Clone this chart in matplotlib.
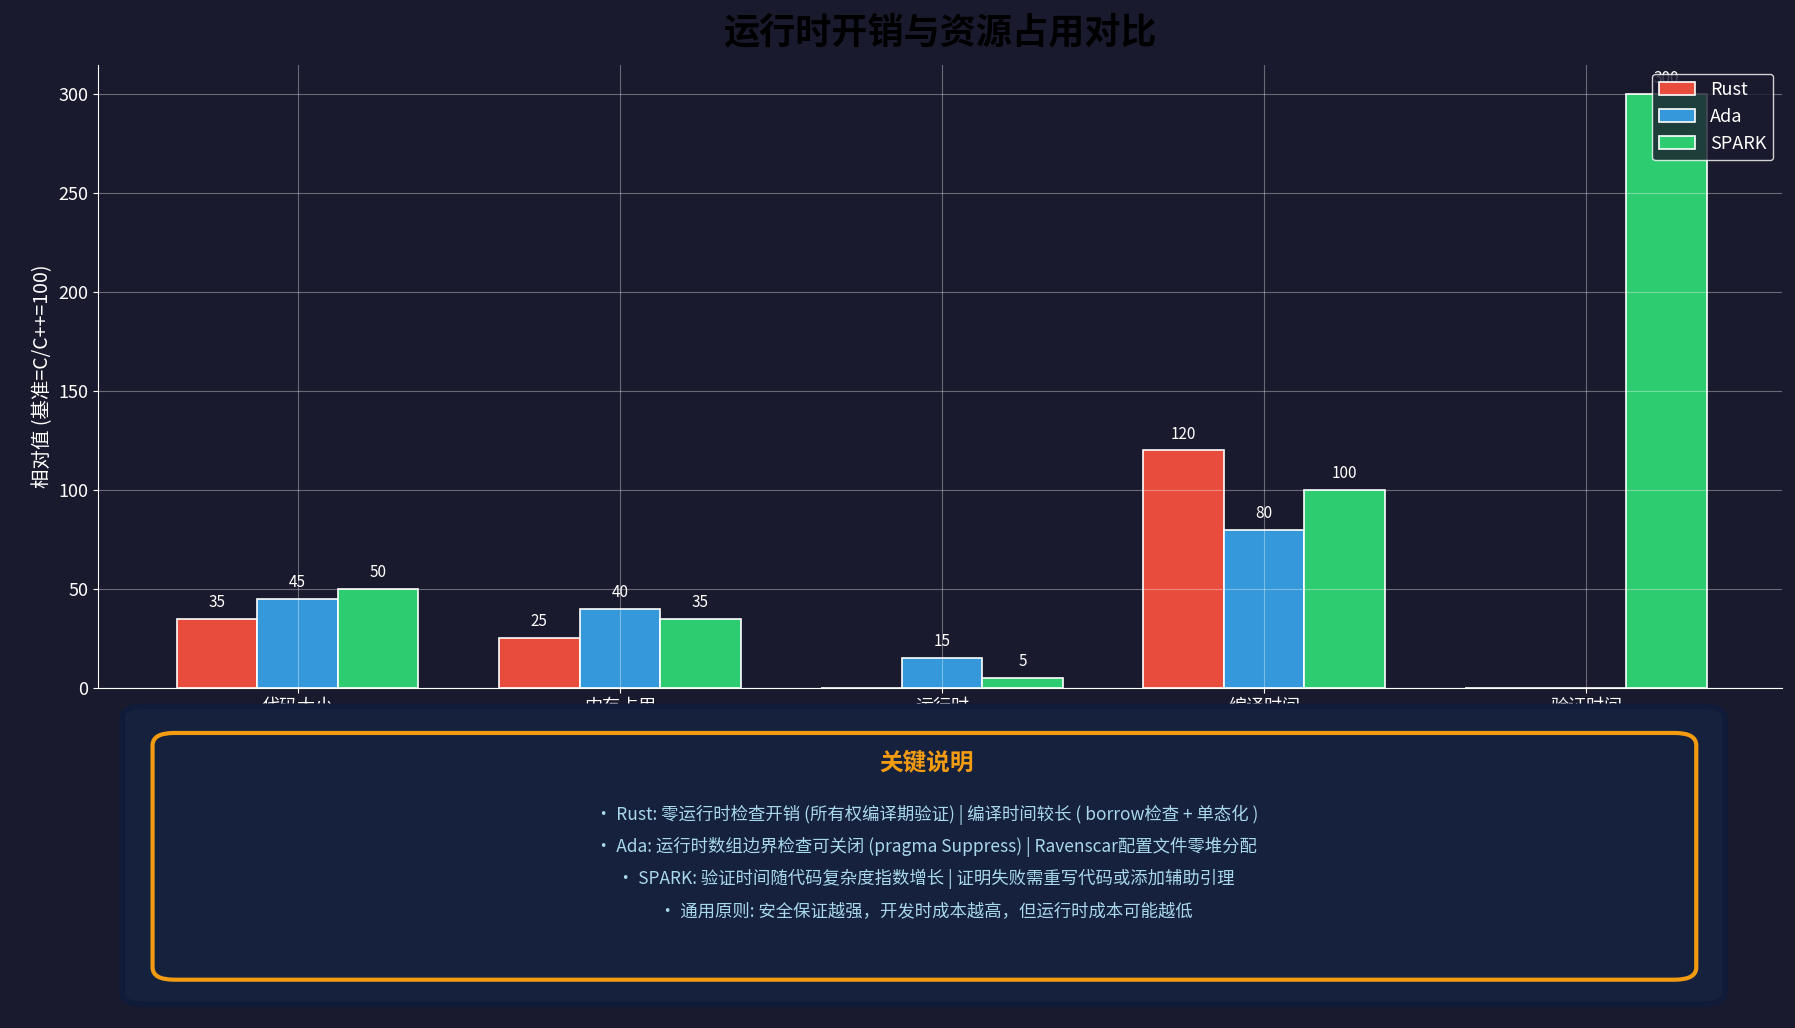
import matplotlib.pyplot as plt
import numpy as np
from matplotlib.patches import FancyBboxPatch

plt.rcParams['font.family'] = ['Noto Sans CJK SC', 'DejaVu Sans']

categories = ['代码大小\n(Flash)', '内存占用\n(RAM)', '运行时\n检查开销', '编译时间', '验证时间']
rust = [35, 25, 0, 120, 0]
ada = [45, 40, 15, 80, 0]
spark = [50, 35, 5, 100, 300]
notes = [
    '• Rust: 零运行时检查开销 (所有权编译期验证) | 编译时间较长 ( borrow检查 + 单态化 )',
    '• Ada: 运行时数组边界检查可关闭 (pragma Suppress) | Ravenscar配置文件零堆分配',
    '• SPARK: 验证时间随代码复杂度指数增长 | 证明失败需重写代码或添加辅助引理',
    '• 通用原则: 安全保证越强，开发时成本越高，但运行时成本可能越低',
]

bg = '#1a1a2e'
fig = plt.figure(figsize=(17.95, 10.28), dpi=100, facecolor=bg)
ax = fig.add_axes([0.0546, 0.331, 0.9384, 0.606], facecolor=bg)

x = np.arange(len(categories))
w = 0.25
for off, vals, col, lab in [(-w, rust, '#e74c3c', 'Rust'), (0, ada, '#3498db', 'Ada'),
                            (w, spark, '#2ecc71', 'SPARK')]:
    bars = ax.bar(x + off, vals, w, color=col, edgecolor='white', linewidth=1.2, label=lab)
    for b, v in zip(bars, vals):
        if v > 0:
            ax.text(b.get_x() + b.get_width() / 2, v + 4, str(v), ha='center', va='bottom',
                    color='white', fontsize=11)

ax.set_xlim(-0.62, 4.61)
ax.set_ylim(0, 315)
ax.set_xticks(x)
ax.set_xticklabels(categories, color='white', fontsize=13)
ax.tick_params(colors='white', labelsize=13)
ax.set_ylabel('相对值 (基准=C/C++=100)', color='white', fontsize=14)
ax.grid(True, color='white', alpha=0.35)
ax.set_axisbelow(False)
for s in ['top', 'right']:
    ax.spines[s].set_visible(False)
for s in ['left', 'bottom']:
    ax.spines[s].set_color('white')
ax.legend(loc='upper right', fontsize=13, facecolor=bg, edgecolor='white',
          labelcolor='white', framealpha=0.8)
fig.text(0.5237, 0.968, '运行时开销与资源占用对比', ha='center', va='center',
         fontsize=26, fontweight='bold', color='black')

# note box
outer = FancyBboxPatch((0.068, 0.023), 0.893, 0.29, boxstyle='round,pad=0,rounding_size=0.012',
                       transform=fig.transFigure, facecolor='#16213e', edgecolor='#0f1b38',
                       linewidth=4, zorder=0)
fig.patches.append(outer)
inner = FancyBboxPatch((0.085, 0.047), 0.86, 0.24, boxstyle='round,pad=0,rounding_size=0.012',
                       transform=fig.transFigure, facecolor='#16213e', edgecolor='#f39c12',
                       linewidth=3, zorder=1)
fig.patches.append(inner)
fig.text(0.516, 0.258, '关键说明', ha='center', va='center', fontsize=17,
         fontweight='bold', color='#f39c12')
for i, t in enumerate(notes):
    fig.text(0.516, 0.207 - i * 0.0312, t, ha='center', va='center', fontsize=12.5,
             color='#a8d8ea')

fig.savefig('out.png', dpi=100, facecolor=bg)
